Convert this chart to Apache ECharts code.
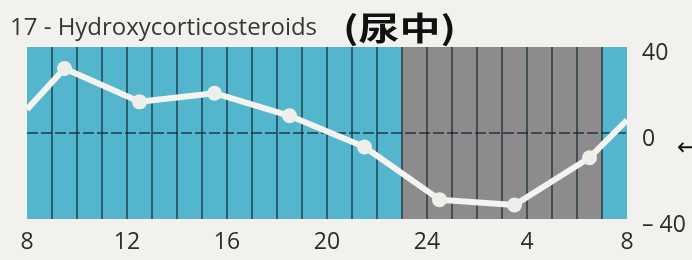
<!DOCTYPE html>
<html>
<head>
<meta charset="utf-8">
<script src="https://cdn.jsdelivr.net/npm/echarts@6/dist/echarts.min.js"></script>
<style>
  html, body { margin: 0; padding: 0; background: #f3f1ed; }
  #chart { width: 692px; height: 260px; }
</style>
</head>
<body>
<div id="chart"></div>
<script>
// 时间（小时，从早上8点起算，超过24即次日）
const hours = [8, 9.5, 12.5, 15.5, 18.5, 21.5, 24.5, 27.5, 30.5, 32];
const values = [11, 30, 14.5, 18.5, 8, -6.5, -31, -33.5, -11.5, 6];
// 背景：白天(蓝) / 夜间(灰)
const bandStart = [8, 23, 31];
const bandEnd = [23, 31, 32];
const bandKind = ['day', 'night', 'day'];
const yTicks = [-40, 0, 40];
const titleText = '17 - Hydroxycorticosteroids';
const titleCn = '(尿中)';

const chart = echarts.init(document.getElementById('chart'));

const bandColor = { day: '#53b6cc', night: '#8e8b8d' };

const option = {
    backgroundColor: '#f3f1ed',
    animation: false,
    grid: { left: 27, right: 65, top: 47, bottom: 41 },
    xAxis: {
        type: 'value',
        min: 8,
        max: 32,
        interval: 1,
        z: 3,
        axisLine: { show: false },
        axisTick: { show: false },
        axisLabel: {
            margin: 12,
            fontFamily: 'Open Sans',
            fontSize: 23,
            color: '#2c2c2c',
            showMinLabel: true,
            showMaxLabel: true,
            formatter: function (v) {
                if ((v - 8) % 4 !== 0) return '';
                return String(v > 24 ? v - 24 : v);
            }
        },
        splitLine: {
            show: true,
            showMinLine: false,
            showMaxLine: false,
            lineStyle: { color: 'rgba(10,30,40,0.75)', width: 1.5 }
        }
    },
    yAxis: {
        type: 'value',
        position: 'right',
        min: yTicks[0],
        max: yTicks[2],
        interval: 40,
        z: 3,
        axisLine: { show: false },
        axisTick: { show: false },
        axisLabel: {
            margin: 15,
            fontFamily: 'Open Sans',
            fontSize: 23,
            color: '#2c2c2c',
            verticalAlign: 'top',
            lineHeight: 12,
            formatter: function (v) { return v < 0 ? '– ' + Math.abs(v) : String(v); }
        },
        splitLine: {
            show: true,
            showMinLine: false,
            showMaxLine: false,
            lineStyle: { color: 'rgba(10,30,40,0.8)', width: 1.5, type: [11, 3] }
        }
    },
    series: [
        {
            name: 'bands',
            type: 'line',
            z: 1,
            data: [],
            silent: true,
            markArea: {
                silent: true,
                data: bandStart.map(function (s, i) {
                    return [
                        { xAxis: s, itemStyle: { color: bandColor[bandKind[i]] } },
                        { xAxis: bandEnd[i] }
                    ];
                })
            }
        },
        {
            name: '17-OHCS',
            type: 'line',
            z: 5,
            data: hours.map(function (h, i) { return [h, values[i]]; }),
            lineStyle: { color: '#f4f3f0', width: 6 },
            symbol: function (val) {
                return (val[0] === hours[0] || val[0] === hours[hours.length - 1]) ? 'none' : 'circle';
            },
            symbolSize: 15,
            itemStyle: { color: '#eeeeea' }
        }
    ],
    graphic: [
        {
            type: 'text',
            left: 10,
            top: 16,
            style: { text: titleText, font: '24px "Open Sans"', fill: '#363636' }
        },
        {
            type: 'text',
            x: 343,
            y: 12,
            scaleX: 1.28,
            style: { text: titleCn, font: 'bold 32px "Noto Sans CJK SC"', fill: '#111' }
        },
        {
            type: 'text',
            left: 677,
            top: 137,
            style: { text: '←', font: '24px "DejaVu Sans"', fill: '#111' }
        }
    ]
};

chart.setOption(option);
</script>
</body>
</html>
